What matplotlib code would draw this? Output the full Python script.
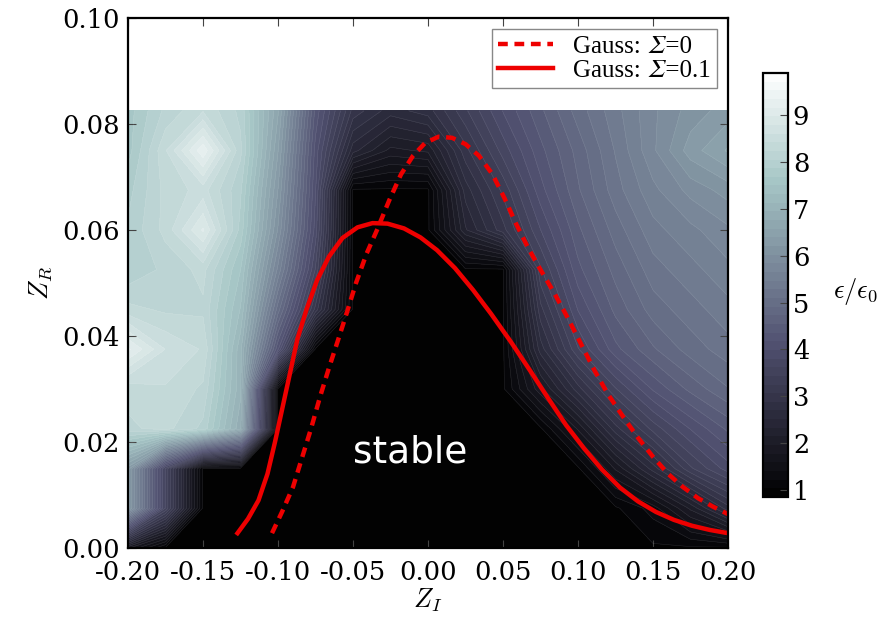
import matplotlib
matplotlib.use('Agg')
import matplotlib.pyplot as plt
from matplotlib.font_manager import FontProperties
import numpy as np

plt.rcParams['font.family'] = 'DejaVu Serif'
plt.rcParams['mathtext.fontset'] = 'cm'
plt.rcParams['axes.unicode_minus'] = False

# grid of the growth-rate map
zi_grid = [-0.2, -0.175, -0.15, -0.125, -0.1, -0.075, -0.05, -0.025, 0.0,
           0.025, 0.05, 0.075, 0.1, 0.125, 0.15, 0.175, 0.2]
zr_grid = [0.0, 0.0075, 0.015, 0.0225, 0.03, 0.0375, 0.045, 0.0525, 0.06,
           0.0675, 0.075, 0.0825]

# eps/eps0, one row per zr_grid value (bottom to top)
eps_rows = [
    [1.8, 1, 1, 1, 1, 1, 1, 1, 1, 1, 1, 1, 1, 1, 1, 1, 1],
    [6.3, 3.6, 1, 1, 1, 1, 1, 1, 1, 1, 1, 1, 1, 1, 1.3, 2.0, 2.8],
    [6.3, 3.6, 1, 1, 1, 1, 1, 1, 1, 1, 1, 1, 1, 1.8, 2.6, 3.4, 3.9],
    [8.2, 8.3, 8.0, 6.8, 1, 1, 1, 1, 1, 1, 1, 1, 1.8, 2.8, 3.5, 4.0, 4.4],
    [8.3, 8.4, 8.2, 7.0, 1, 1, 1, 1, 1, 1, 1, 1.9, 2.8, 3.6, 4.2, 4.6, 4.9],
    [9.2, 8.6, 8.4, 7.0, 4.2, 1, 1, 1, 1, 1, 1, 2.6, 3.6, 4.3, 4.7, 5.0, 5.2],
    [8.3, 8.2, 8.2, 7.3, 5.0, 3.0, 1, 1, 1, 1, 1, 3.0, 4.0, 4.6, 5.0, 5.2, 5.4],
    [7.9, 8.1, 8.3, 7.5, 5.6, 3.6, 1, 1, 1, 1, 1, 3.4, 4.3, 4.8, 5.2, 5.4, 5.6],
    [7.9, 8.3, 9.0, 7.8, 6.0, 3.9, 1, 1, 1, 2.3, 3.0, 3.8, 4.5, 5.0, 5.4, 5.6, 5.8],
    [7.8, 8.3, 8.5, 7.9, 6.2, 4.0, 1, 1, 1, 2.6, 3.3, 4.1, 4.7, 5.2, 5.6, 5.9, 6.1],
    [7.6, 8.4, 9.3, 8.1, 6.4, 4.1, 2.4, 1.9, 2.0, 3.0, 3.7, 4.3, 4.8, 5.3, 5.8, 6.3, 6.6],
    [7.6, 8.1, 8.4, 8.0, 6.6, 4.3, 3.0, 2.6, 2.8, 3.4, 4.0, 4.5, 5.0, 5.4, 5.8, 6.1, 6.3],
]

# stability boundary, Sigma = 0.1 (solid)
sol_zi = [-0.127, -0.120, -0.113, -0.107, -0.102, -0.097, -0.092, -0.087, -0.081,
          -0.074, -0.066, -0.057, -0.047, -0.037, -0.027, -0.016, -0.005, 0.006,
          0.018, 0.030, 0.042, 0.055, 0.068, 0.080, 0.092, 0.104, 0.116, 0.128,
          0.140, 0.152, 0.164, 0.176, 0.188, 0.200]
sol_zr = [0.0028, 0.0055, 0.0090, 0.0140, 0.0200, 0.0265, 0.0330, 0.0395, 0.0450,
          0.0505, 0.0550, 0.0585, 0.0605, 0.0613, 0.0612, 0.0603, 0.0586, 0.0562,
          0.0528, 0.0487, 0.0442, 0.0390, 0.0335, 0.0283, 0.0232, 0.0188, 0.0148,
          0.0114, 0.0088, 0.0068, 0.0053, 0.0042, 0.0034, 0.0028]

# stability boundary, Sigma = 0 (dashed)
dash_zi = [-0.104, -0.097, -0.090, -0.084, -0.078, -0.072, -0.066, -0.060, -0.054,
           -0.048, -0.041, -0.034, -0.026, -0.018, -0.010, -0.002, 0.007, 0.016,
           0.025, 0.034, 0.043, 0.051, 0.059, 0.067, 0.075, 0.084, 0.093, 0.102,
           0.111, 0.120, 0.130, 0.140, 0.150, 0.160, 0.170, 0.180, 0.190, 0.200]
dash_zr = [0.0028, 0.0070, 0.0115, 0.0170, 0.0225, 0.0285, 0.0340, 0.0392, 0.0445,
           0.0500, 0.0555, 0.0600, 0.0655, 0.0705, 0.0740, 0.0764, 0.0776, 0.0774,
           0.0762, 0.0740, 0.0705, 0.0660, 0.0610, 0.0565, 0.0525, 0.0482, 0.0435,
           0.0385, 0.0335, 0.0290, 0.0248, 0.0208, 0.0172, 0.0140, 0.0115, 0.0094,
           0.0078, 0.0064]

x_ticks = [-0.2, -0.15, -0.1, -0.05, 0.0, 0.05, 0.1, 0.15, 0.2]
y_ticks = [0.0, 0.02, 0.04, 0.06, 0.08, 0.1]
cbar_ticks = [1, 2, 3, 4, 5, 6, 7, 8, 9]

fig = plt.figure(figsize=(8.92, 6.18), dpi=100)
ax = fig.add_axes([128/892, 1-548/618, 600/892, 530/618])

levels = np.linspace(0.85, 9.9, 50)
eps = np.array(eps_rows)
cs = ax.contourf(zi_grid, zr_grid, eps, levels=levels, cmap='bone')
ax.contour(zi_grid, zr_grid, eps, levels=levels, colors='w', linewidths=0.4, alpha=0.12)

sig = '\U0001D6F4'  # italic capital sigma
ax.plot(dash_zi, dash_zr, color='#ee0000', lw=3.2, ls=(0, (2.2, 1.5)), label='Gauss: ' + sig + '=0')
ax.plot(sol_zi, sol_zr, color='#ee0000', lw=3.2, label='Gauss: ' + sig + '=0.1')

ax.text(-0.012, 0.018, 'stable', color='white', fontsize=27, family='DejaVu Sans',
        ha='center', va='center')

ax.set_xlim(-0.2, 0.2)
ax.set_ylim(0, 0.1)
ax.set_xticks(x_ticks)
ax.set_yticks(y_ticks)
ax.xaxis.set_major_formatter(matplotlib.ticker.FormatStrFormatter('%.2f'))
ax.yaxis.set_major_formatter(matplotlib.ticker.FormatStrFormatter('%.2f'))
ax.tick_params(direction='in', top=True, right=True, labelsize=18.5, length=6,
               color='#444444')
ax.tick_params(axis='x', pad=9)
ax.tick_params(axis='y', pad=6)
for s in ax.spines.values():
    s.set_linewidth(1.6)
ax.set_xlabel(r'$Z_I$', fontsize=19, labelpad=1)
ax.set_ylabel(r'$Z_R$', fontsize=19, labelpad=6)

leg_font = FontProperties(family=['Liberation Serif', 'DejaVu Serif', 'STIXGeneral'], size=18)
leg = ax.legend(loc='upper right', prop=leg_font, handlelength=2.2,
                borderaxespad=0.45, labelspacing=0.05, borderpad=0.25,
                fancybox=False, framealpha=1)
leg.get_frame().set_edgecolor('#888888')

cax = fig.add_axes([763/892, 1-497/618, 25/892, 424/618])
cb = fig.colorbar(cs, cax=cax, ticks=cbar_ticks)
cb.ax.tick_params(direction='in', labelsize=18.5, length=6, color='#444444')
cb.outline.set_linewidth(1.6)
cb.ax.text(3.7, 0.485, r'$\epsilon/\epsilon_0$', transform=cb.ax.transAxes,
           fontsize=19, ha='center', va='center')

fig.savefig('out.png', dpi=100)
